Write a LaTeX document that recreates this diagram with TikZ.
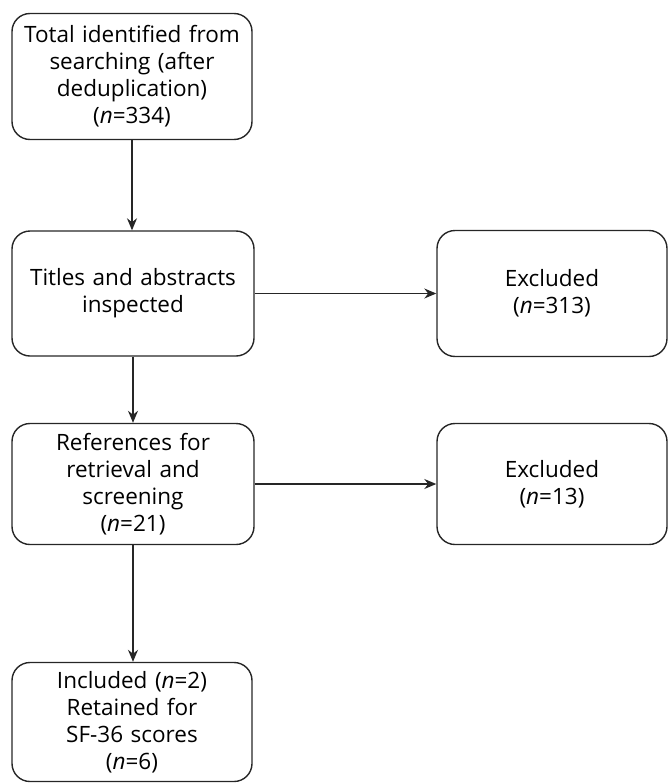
\documentclass[tikz,border=0pt]{standalone}
\usepackage{fontspec}
\setmainfont{Open Sans}
\usetikzlibrary{arrows.meta}
\begin{document}
\begin{tikzpicture}[x=1pt,y=-1pt,
  box/.style={draw=black!85,line width=1.4pt,rounded corners=18pt,align=center,
    font=\fontsize{22.5}{27}\selectfont,inner sep=0pt},
  arr/.style={draw=black!85,line width=1.3pt,-{Stealth[length=12pt,width=10pt]}}]
\useasboundingbox (0,0) rectangle (668,784);
\node[box,minimum width=240pt,minimum height=126pt,text width=236pt] (a) at (132,76.5)
  {Total identified from\\searching (after\\deduplication)\\(\textit{n}=334)};
\node[box,minimum width=242pt,minimum height=125pt,text width=236pt] (b) at (133,293.5)
  {Titles and abstracts\\inspected};
\node[box,minimum width=230pt,minimum height=126pt,text width=220pt] (c) at (552,293.5)
  {Excluded\\(\textit{n}=313)};
\node[box,minimum width=242pt,minimum height=121pt,text width=236pt] (d) at (133,484)
  {References for\\retrieval and\\screening\\(\textit{n}=21)};
\node[box,minimum width=230pt,minimum height=121pt,text width=220pt] (e) at (552,484)
  {Excluded\\(\textit{n}=13)};
\node[box,minimum width=240pt,minimum height=119pt,text width=236pt] (f) at (132,722)
  {Included (\textit{n}=2)\\Retained for\\SF-36 scores\\(\textit{n}=6)};
\draw[arr] (a.south) -- (a.south |- b.north);
\draw[arr] (b.south) -- (b.south |- d.north);
\draw[arr] (d.south) -- (d.south |- f.north);
\draw[arr] (b.east) -- (c.west);
\draw[arr] (d.east) -- (e.west);
\end{tikzpicture}
\end{document}
